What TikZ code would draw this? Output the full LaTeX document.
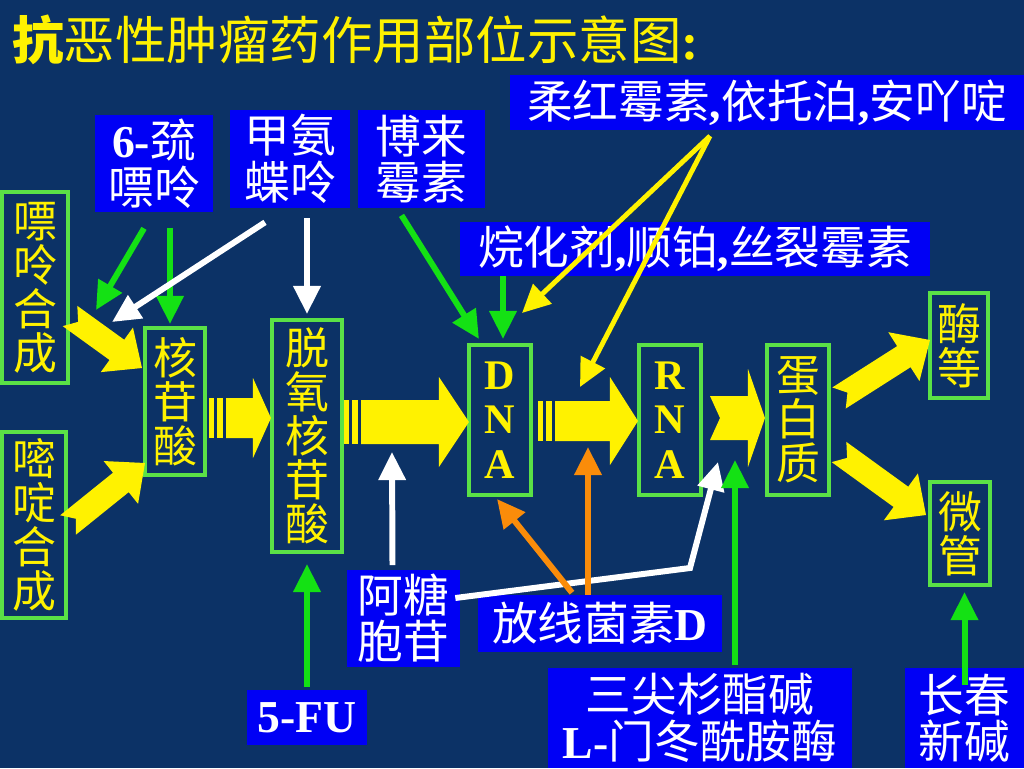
\documentclass[tikz,border=0pt]{standalone}
\usepackage{fontspec}
\setmainfont{Noto Sans CJK SC}
\newfontfamily\tms{Liberation Serif}
\usetikzlibrary{arrows.meta,calc}

\definecolor{bgnavy}{RGB}{12,50,102}
\definecolor{boxblue}{RGB}{0,0,245}
\definecolor{boxgreen}{RGB}{90,225,70}
\definecolor{arrgreen}{RGB}{20,225,20}
\definecolor{arrorange}{RGB}{250,140,10}

\tikzset{
  gbox/.style={draw=boxgreen, line width=2.3pt, text=yellow, inner sep=0pt, align=center, font=\fontsize{25}{25}\selectfont},
  bbox/.style={fill=boxblue, text=white, inner sep=0pt, align=center, font=\fontsize{26}{26.5}\selectfont},
  bigarrow/.style={fill=yellow},
  drugline/.style={line width=3.4pt, -{Triangle[length=16pt,width=15pt]}},
  garrow/.style={drugline, draw=arrgreen},
  warrow/.style={drugline, draw=white},
  yarrow/.style={drugline, draw=yellow, line width=2.8pt},
  oarrow/.style={drugline, draw=arrorange},
}

% block arrow: start, tip, body half width, head half width, head length, notch depth
\newcommand{\blockarrow}[6]{%
  \fill[bigarrow] ($(#1)!#3!90:(#2)$) -- ($(#1)!#6!(#2)$) -- ($(#1)!#3!-90:(#2)$)
    -- ($(#2)!#5!(#1)!#3!90:(#1)$) -- ($(#2)!#5!(#1)!#4!90:(#1)$) -- (#2)
    -- ($(#2)!#5!(#1)!#4!-90:(#1)$) -- ($(#2)!#5!(#1)!#3!-90:(#1)$) -- cycle;}
% striped arrow: two bars, then the block
\newcommand{\stripearrow}[5]{%
  \fill[bigarrow] ($(#1)+(0cm,-#3)$) rectangle ($(#1)+(0.1cm,#3)$);
  \fill[bigarrow] ($(#1)+(0.16cm,-#3)$) rectangle ($(#1)+(0.28cm,#3)$);
  \coordinate (sa) at ($(#1)+(0.34cm,0cm)$);
  \blockarrow{sa}{#2}{#3}{#4}{#5}{0cm}}

\begin{document}
\begin{tikzpicture}[x=0.02cm,y=-0.02cm]
  \path[use as bounding box, fill=bgnavy] (0,0) rectangle (1024,768);

  % Title
  \node[anchor=west, text=yellow, inner sep=0pt, font=\fontsize{29.3}{29.3}\selectfont] (title) at (12,40)
    {{\bfseries 抗}恶性肿瘤药作用部位示意图{\tms\bfseries :}};

  % Pathway boxes
  \node[gbox, minimum width=1.32cm, minimum height=3.82cm] (purine) at (35,287.5) {嘌\\呤\\合\\成};
  \node[gbox, minimum width=1.28cm, minimum height=3.72cm] (pyrim) at (34,525) {嘧\\啶\\合\\成};
  \node[gbox, minimum width=1.2cm, minimum height=2.94cm] (nucl) at (175,401.5) {核\\苷\\酸};
  \node[gbox, minimum width=1.4cm, minimum height=4.64cm] (deoxy) at (307,436) {脱\\氧\\核\\苷\\酸};
  \node[gbox, minimum width=1.24cm, minimum height=3cm, font=\tms\bfseries\fontsize{24}{25.5}\selectfont] (dna) at (500,420) {D\\N\\A};
  \node[gbox, minimum width=1.24cm, minimum height=3cm, font=\tms\bfseries\fontsize{24}{25.5}\selectfont] (rna) at (670,420) {R\\N\\A};
  \node[gbox, minimum width=1.24cm, minimum height=3cm] (prot) at (798,420) {蛋\\白\\质};
  \node[gbox, minimum width=1.16cm, minimum height=2.1cm] (enz) at (959,345.5) {酶\\等};
  \node[gbox, minimum width=1.2cm, minimum height=2.06cm] (micro) at (960,533.5) {微\\管};

  % Drug boxes
  \node[bbox, minimum width=2.36cm, minimum height=1.94cm] (mp) at (154,163.5) {{\tms\bfseries 6-}巯\\嘌呤};
  \node[bbox, minimum width=2.4cm, minimum height=1.96cm] (mtx) at (290,159) {甲氨\\蝶呤};
  \node[bbox, minimum width=2.54cm, minimum height=1.96cm] (bleo) at (421.5,159) {博来\\霉素};
  \node[bbox, minimum width=10.28cm, minimum height=1.1cm, font=\fontsize{26}{26}\selectfont] (dauno) at (767,102.5)
    {柔红霉素{\tms\bfseries ,}依托泊{\tms\bfseries ,}安吖啶};
  \node[bbox, minimum width=9.4cm, minimum height=1.08cm, font=\fontsize{26}{26}\selectfont] (alk) at (695,249)
    {烷化剂{\tms\bfseries ,}顺铂{\tms\bfseries ,}丝裂霉素};
  \node[bbox, minimum width=2.26cm, minimum height=1.94cm] (arac) at (403.5,618) {阿糖\\胞苷};
  \node[bbox, minimum width=4.88cm, minimum height=1.14cm] (actd) at (600,623.5) {放线菌素{\tms\bfseries D}};
  \node[bbox, minimum width=2.4cm, minimum height=1.1cm] (fu) at (307,717.5) {\tms\bfseries 5-FU};
  \node[bbox, minimum width=6.08cm, minimum height=2cm] (harr) at (700,718) {三尖杉酯碱\\{\tms\bfseries L-}门冬酰胺酶};
  \node[bbox, minimum width=2.38cm, minimum height=2cm] (vcr) at (964.5,718) {长春\\新碱};

  % Big yellow arrows
  \coordinate (mid) at (0,420);
  \blockarrow{$(purine.east |- 0,316)+(0,0)$}{$(nucl.west |- 0,368)+(-1,0)$}{0.25cm}{0.55cm}{0.62cm}{0.2cm}
  \blockarrow{$(pyrim.east |- 0,525)+(0,0)$}{$(nucl.west |- 0,463)+(2,0)$}{0.25cm}{0.55cm}{0.62cm}{0.2cm}
  \stripearrow{$(nucl.east |- mid)+(2,-2)$}{$(deoxy.west |- mid)+(1,-2)$}{0.4cm}{0.8cm}{0.36cm}
  \stripearrow{$(deoxy.east |- mid)+(0,2)$}{$(dna.west |- mid)+(2,2)$}{0.44cm}{0.9cm}{0.6cm}
  \stripearrow{$(dna.east |- mid)+(5,1)$}{$(rna.west |- mid)+(1,1)$}{0.4cm}{0.88cm}{0.56cm}
  \blockarrow{$(rna.east |- mid)+(7,-2)$}{$(prot.west |- mid)+(0,-2)$}{0.44cm}{0.98cm}{0.34cm}{0.2cm}
  \blockarrow{$(prot.east |- 0,398)+(8,0)$}{$(enz.west |- 0,340)+(2,0)$}{0.25cm}{0.58cm}{0.62cm}{0.2cm}
  \blockarrow{$(prot.east |- 0,452)+(8,0)$}{$(micro.west |- 0,515)+(-2,0)$}{0.25cm}{0.58cm}{0.62cm}{0.2cm}

  % Drug arrows
  \coordinate (pa) at (96,310);
  \coordinate (pb) at (112,322);
  \coordinate (yfork) at (710,136);
  \coordinate (dtop) at (522,313);
  \coordinate (rtop) at (580,387);
  \coordinate (sbot) at (392,452);
  \coordinate (rnab) at (588,447);
  \coordinate (pbend) at (690,568);
  \coordinate (pbot) at (718,462);
  \coordinate (pgreen) at (735,460);
  \draw[garrow] ($(mp.south)+(-10,16)$) -- (pa);
  \draw[garrow] ($(mp.south)+(16,16)$) -- ($(nucl.north)+(-5,-2)$);
  \draw[warrow] ($(mtx.south)+(-25,14)$) -- (pb);
  \draw[warrow] ($(mtx.south -| deoxy.north)+(0,10)$) -- ($(deoxy.north)+(0,-4)$);
  \draw[garrow] ($(bleo.south)+(-20,7)$) -- ($(dna.north west)+(12,-4)$);
  \draw[garrow] ($(alk.south -| dna.north)+(3,0)$) -- ($(dna.north)+(3,-4)$);
  \draw[yarrow] (yfork) -- (dtop);
  \draw[yarrow] (yfork) -- (rtop);
  \draw[warrow] ($(arac.north)+(-11,-4)$) -- (sbot);
  \draw[warrow] ($(arac.east)+(-5,-20)$) -- (pbend) -- (pbot);
  \draw[oarrow] ($(actd.north)+(-28,-2)$) -- ($(dna.south)+(-3,2)$);
  \draw[oarrow] ($(actd.north)+(-12,0)$) -- (rnab);
  \draw[garrow] ($(fu.north)+(0,-3)$) -- ($(deoxy.south)+(0,10)$);
  \draw[garrow] ($(harr.north)+(35,-3)$) -- (pgreen);
  \draw[garrow] ($(vcr.north)+(0,17)$) -- ($(micro.south -| vcr.north)+(0,5)$);
\end{tikzpicture}
\end{document}
